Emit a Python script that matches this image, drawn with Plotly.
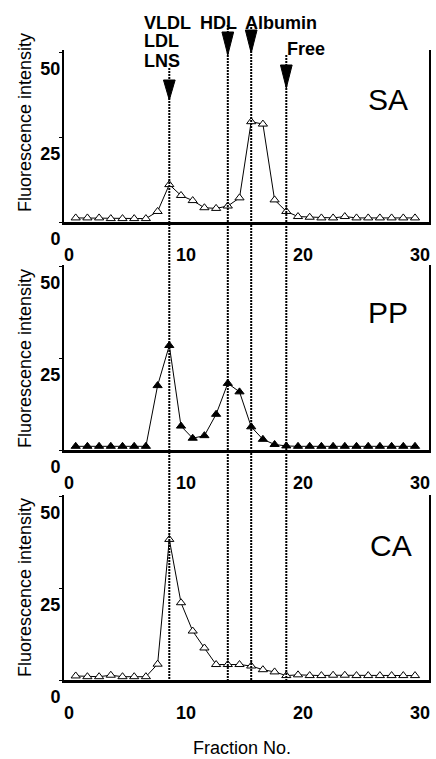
import plotly.graph_objects as go

# ---- data ----
fractions = list(range(1, 31))
sa = [1.2, 1.2, 1.2, 1.0, 1.0, 1.0, 1.0, 3.1, 11.0, 7.8, 6.3, 4.2, 4.0, 4.7, 7.1, 29.5, 28.8, 6.5, 3.1, 1.6,
      1.4, 1.2, 1.2, 1.6, 1.2, 1.2, 1.2, 1.2, 1.2, 1.2]
pp = [1.0, 1.0, 1.0, 1.0, 1.0, 1.0, 1.0, 17.5, 28.4, 6.5, 3.2, 3.9, 9.7, 18.1, 15.8, 6.3, 2.9, 1.5, 1.1, 1.0,
      1.0, 1.0, 1.0, 1.0, 1.0, 1.0, 1.0, 1.0, 1.0, 1.0]
ca = [1.1, 0.9, 0.9, 1.3, 0.9, 0.9, 0.9, 4.3, 38.2, 21.0, 13.3, 8.7, 4.2, 4.2, 4.2, 3.8, 2.8, 2.2, 1.2, 1.4,
      1.2, 1.2, 1.3, 1.3, 1.2, 1.2, 1.2, 1.2, 1.2, 1.2]
panel_names = ["SA", "PP", "CA"]
marker_names = ["VLDL", "HDL", "Albumin", "Free"]
marker_fracs = [9, 14, 16, 19]
y_ticks = [0, 25, 50]
x_ticks = [0, 10, 20, 30]

W, H = 436, 759
FONT = "Liberation Sans, Arial, sans-serif"


def px_x(p):
    return p / W


def px_y(p):
    return 1 - p / H


# panel pixel boxes (top, bottom)
panels = [(50, 222), (265, 450), (495, 680)]
px_per_unit = [3.4, 3.68, 3.68]
x_left, x_right = 64, 429
x_range = [0, (x_right - x_left) / 11.7]

fig = go.Figure()
series = [sa, pp, ca]
filled = [False, True, False]
for i, vals in enumerate(series):
    sfx = "" if i == 0 else str(i + 1)
    fig.add_trace(go.Scatter(
        x=fractions, y=vals, mode="lines+markers",
        xaxis="x" + sfx, yaxis="y" + sfx,
        line=dict(color="black", width=1),
        marker=dict(symbol="triangle-up", size=8,
                    color="black" if filled[i] else "white",
                    line=dict(color="black", width=1)),
        showlegend=False, cliponaxis=False,
    ))
    top, bot = panels[i]
    yr = (bot - top) / px_per_unit[i]
    fig.update_layout(**{
        "xaxis" + sfx: dict(
            domain=[px_x(x_left), px_x(x_right)], range=x_range, anchor="y" + sfx,
            automargin=False,
            showline=True, linewidth=3, linecolor="black", showgrid=False, zeroline=False,
            tickvals=x_ticks, ticks="", ticklabelshift=5, ticklabelstandoff=14,
            tickfont=dict(family=FONT, size=18, color="black", weight="bold"),
        ),
        "yaxis" + sfx: dict(
            domain=[px_y(bot), px_y(top)], range=[0, yr], anchor="x" + sfx,
            automargin=False,
            showline=True, linewidth=2, linecolor="black", mirror=True,
            showgrid=False, zeroline=False,
            tickvals=y_ticks, ticks="outside", ticklen=3, tickwidth=1, tickcolor="black",
            ticklabelshift=17, ticklabelstandoff=-5,
            tickfont=dict(family=FONT, size=18, color="black", weight="bold"),
        ),
    })

shapes = []
annotations = []
# dotted marker lines and arrowheads
shaft_top = [68, 25, 27, 55]
head_top = [80, 32, 30, 65]
head_tip = [100, 55, 53, 88]
for k, f in enumerate(marker_fracs):
    shapes.append(dict(type="line", xref="x", yref="paper", x0=f, x1=f,
                       y0=px_y(shaft_top[k]), y1=px_y(680),
                       line=dict(color="black", width=2, dash="2px,1px")))
    hw = 0.5
    shapes.append(dict(type="path", xref="x", yref="paper",
                       path=f"M {f-hw},{px_y(head_top[k])} L {f+hw},{px_y(head_top[k])} L {f},{px_y(head_tip[k])} Z",
                       fillcolor="black", line=dict(color="black", width=1)))

# top labels
top_labels = [("VLDL", 142, 22.5), ("LDL", 142, 41.5), ("LNS", 142, 61.5),
              ("HDL", 198, 22.5), ("Albumin", 243, 22.5), ("Free", 285, 48.5)]
for txt, lx, ly in top_labels:
    annotations.append(dict(text=txt, x=px_x(lx), y=px_y(ly), xref="paper", yref="paper",
                            xanchor="left", yanchor="middle", showarrow=False,
                            font=dict(family=FONT, size=18, color="black", weight="bold")))

# panel names
name_pos = [(388, 99), (388, 312), (391, 545)]
for nm, (nx, ny) in zip(panel_names, name_pos):
    annotations.append(dict(text=nm, x=px_x(nx), y=px_y(ny), xref="paper", yref="paper",
                            xanchor="center", yanchor="middle", showarrow=False,
                            font=dict(family=FONT, size=30, color="black")))

# y titles
for ty in [123, 359, 588]:
    annotations.append(dict(text="Fluorescence intensity", x=px_x(25), y=px_y(ty),
                            xref="paper", yref="paper", textangle=-90,
                            xanchor="center", yanchor="middle", showarrow=False,
                            font=dict(family=FONT, size=18, color="black")))

annotations.append(dict(text="Fraction No.", x=px_x(242), y=px_y(748), xref="paper", yref="paper",
                        xanchor="center", yanchor="middle", showarrow=False,
                        font=dict(family=FONT, size=18, color="black")))

fig.update_layout(template="none", width=W, height=H, margin=dict(l=0, r=0, t=0, b=0, pad=0),
                  paper_bgcolor="white", plot_bgcolor="white",
                  shapes=shapes, annotations=annotations)

fig.write_html("out.html", config={"displayModeBar": False},
               post_script="document.body.style.margin='0';")
